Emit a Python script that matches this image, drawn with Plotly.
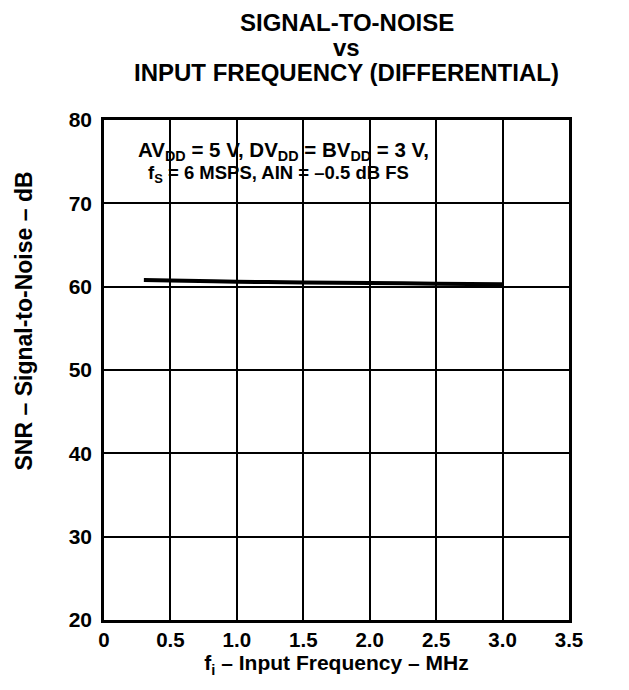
import plotly.graph_objects as go

freq_mhz = [0.3, 0.5, 1.0, 1.5, 2.0, 2.5, 3.0]
snr_db = [60.8, 60.75, 60.6, 60.5, 60.45, 60.35, 60.3]

x_tickvals = [0, 0.5, 1.0, 1.5, 2.0, 2.5, 3.0, 3.5]
x_ticktext = ["0", "0.5", "1.0", "1.5", "2.0", "2.5", "3.0", "3.5"]
y_tickvals = [20, 30, 40, 50, 60, 70, 80]

title_lines = ["SIGNAL-TO-NOISE", "vs", "INPUT FREQUENCY (DIFFERENTIAL)"]
note_lines = ["AV<sub>DD</sub> = 5 V, DV<sub>DD</sub> = BV<sub>DD</sub> = 3 V,",
              "f<sub>S</sub> = 6 MSPS, AIN = –0.5 dB FS"]

FONT = "Liberation Sans, Arial, sans-serif"

fig = go.Figure()
fig.add_trace(go.Scatter(
    x=freq_mhz, y=snr_db, mode="lines",
    line=dict(color="black", width=4, shape="spline"),
    showlegend=False, hoverinfo="skip",
))

fig.update_layout(
    width=629, height=690,
    margin=dict(l=96, r=68, t=112, b=78),
    paper_bgcolor="white", plot_bgcolor="white",
    font=dict(family=FONT, color="black"),
)

fig.update_xaxes(
    range=[0, 3.5], tickvals=x_tickvals, ticktext=x_ticktext,
    showgrid=True, gridcolor="black", gridwidth=1.5,
    showline=True, linecolor="black", linewidth=2.5, mirror=True,
    ticks="", zeroline=False, ticklabelstandoff=0,
    tickfont=dict(size=20.5, family=FONT, weight="bold"),
    title=dict(text="<b>f<sub>i</sub> – Input Frequency – MHz</b>",
               font=dict(size=21, family=FONT), standoff=0),
)
fig.update_yaxes(
    range=[20, 80], tickvals=y_tickvals,
    showgrid=True, gridcolor="black", gridwidth=1.5,
    showline=True, linecolor="black", linewidth=2.5, mirror=True,
    ticks="", zeroline=False, ticklabelstandoff=5,
    tickfont=dict(size=21, family=FONT, weight="bold"),
)

# y-axis title (slightly above plot centre, as in the reference)
fig.add_annotation(
    xref="paper", yref="paper", x=-0.171, y=0.598, xanchor="center", yanchor="middle",
    text="<b>SNR – Signal-to-Noise – dB</b>", textangle=-90, showarrow=False,
    font=dict(size=23, family=FONT, color="black"),
)

# chart title, one annotation per line
for txt, ypos in zip(title_lines, [1.195, 1.145, 1.094]):
    fig.add_annotation(
        xref="paper", yref="paper", x=0.522, y=ypos, xanchor="center", yanchor="middle",
        text="<b>" + txt + "</b>", showarrow=False,
        font=dict(size=24, family=FONT, color="black"),
    )

fig.add_shape(type="rect", xref="paper", yref="paper",
              x0=0.006, x1=0.753, y0=0.853, y1=0.972,
              fillcolor="white", line=dict(width=0), layer="between")

for txt, xpos, ypos, fs in zip(note_lines, [0.386, 0.375], [0.937, 0.892], [20.5, 18.5]):
    fig.add_annotation(
        xref="paper", yref="paper", x=xpos, y=ypos, xanchor="center", yanchor="middle",
        text="<b>" + txt + "</b>", showarrow=False,
        font=dict(size=fs, family=FONT, color="black"),
    )

fig.write_html("out.html")
